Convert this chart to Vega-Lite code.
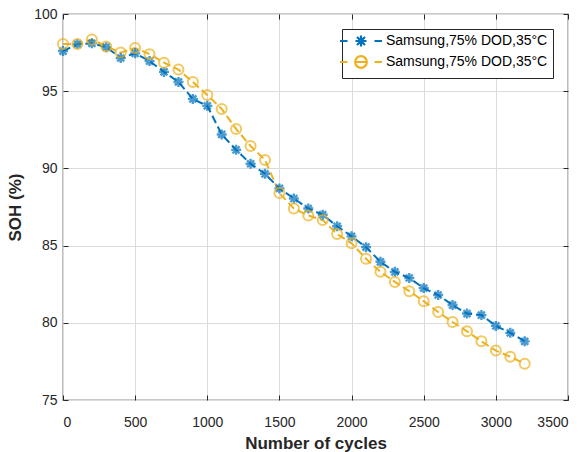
{
  "$schema": "https://vega.github.io/schema/vega-lite/v6.json",
  "width": 505,
  "height": 386,
  "autosize": {"type": "none"},
  "padding": {"left": 63, "top": 14, "right": 19, "bottom": 52},
  "background": "white",
  "config": {
    "font": "Liberation Sans",
    "view": {"stroke": "#262626", "strokeWidth": 1.2},
    "axis": {
      "domain": false,
      "tickColor": "#262626",
      "tickSize": -5,
      "tickWidth": 1,
      "labelFont": "Liberation Sans",
      "labelFontSize": 14,
      "labelColor": "#262626",
      "gridColor": "#dcdcdc",
      "gridWidth": 1,
      "titleFont": "Liberation Sans",
      "titleFontSize": 17,
      "titleFontWeight": "bold",
      "titleColor": "#262626"
    }
  },
  "datasets": {
    "soh": [
      {"cycle": 0, "soh": 97.6, "series": "A"},
      {"cycle": 100, "soh": 98.05, "series": "A"},
      {"cycle": 200, "soh": 98.1, "series": "A"},
      {"cycle": 300, "soh": 97.85, "series": "A"},
      {"cycle": 400, "soh": 97.15, "series": "A"},
      {"cycle": 500, "soh": 97.45, "series": "A"},
      {"cycle": 600, "soh": 96.95, "series": "A"},
      {"cycle": 700, "soh": 96.25, "series": "A"},
      {"cycle": 800, "soh": 95.6, "series": "A"},
      {"cycle": 900, "soh": 94.5, "series": "A"},
      {"cycle": 1000, "soh": 94.05, "series": "A"},
      {"cycle": 1100, "soh": 92.2, "series": "A"},
      {"cycle": 1200, "soh": 91.2, "series": "A"},
      {"cycle": 1300, "soh": 90.3, "series": "A"},
      {"cycle": 1400, "soh": 89.65, "series": "A"},
      {"cycle": 1500, "soh": 88.7, "series": "A"},
      {"cycle": 1600, "soh": 88.05, "series": "A"},
      {"cycle": 1700, "soh": 87.4, "series": "A"},
      {"cycle": 1800, "soh": 87.0, "series": "A"},
      {"cycle": 1900, "soh": 86.25, "series": "A"},
      {"cycle": 2000, "soh": 85.6, "series": "A"},
      {"cycle": 2100, "soh": 84.9, "series": "A"},
      {"cycle": 2200, "soh": 83.95, "series": "A"},
      {"cycle": 2300, "soh": 83.3, "series": "A"},
      {"cycle": 2400, "soh": 82.9, "series": "A"},
      {"cycle": 2500, "soh": 82.25, "series": "A"},
      {"cycle": 2600, "soh": 81.8, "series": "A"},
      {"cycle": 2700, "soh": 81.15, "series": "A"},
      {"cycle": 2800, "soh": 80.6, "series": "A"},
      {"cycle": 2900, "soh": 80.5, "series": "A"},
      {"cycle": 3000, "soh": 79.8, "series": "A"},
      {"cycle": 3100, "soh": 79.35, "series": "A"},
      {"cycle": 3200, "soh": 78.8, "series": "A"},
      {"cycle": 0, "soh": 98.05, "series": "B"},
      {"cycle": 100, "soh": 98.05, "series": "B"},
      {"cycle": 200, "soh": 98.35, "series": "B"},
      {"cycle": 300, "soh": 97.9, "series": "B"},
      {"cycle": 400, "soh": 97.5, "series": "B"},
      {"cycle": 500, "soh": 97.8, "series": "B"},
      {"cycle": 600, "soh": 97.4, "series": "B"},
      {"cycle": 700, "soh": 96.85, "series": "B"},
      {"cycle": 800, "soh": 96.4, "series": "B"},
      {"cycle": 900, "soh": 95.6, "series": "B"},
      {"cycle": 1000, "soh": 94.75, "series": "B"},
      {"cycle": 1100, "soh": 93.85, "series": "B"},
      {"cycle": 1200, "soh": 92.55, "series": "B"},
      {"cycle": 1300, "soh": 91.45, "series": "B"},
      {"cycle": 1400, "soh": 90.55, "series": "B"},
      {"cycle": 1500, "soh": 88.4, "series": "B"},
      {"cycle": 1600, "soh": 87.4, "series": "B"},
      {"cycle": 1700, "soh": 86.95, "series": "B"},
      {"cycle": 1800, "soh": 86.65, "series": "B"},
      {"cycle": 1900, "soh": 85.75, "series": "B"},
      {"cycle": 2000, "soh": 85.15, "series": "B"},
      {"cycle": 2100, "soh": 84.15, "series": "B"},
      {"cycle": 2200, "soh": 83.3, "series": "B"},
      {"cycle": 2300, "soh": 82.65, "series": "B"},
      {"cycle": 2400, "soh": 82.05, "series": "B"},
      {"cycle": 2500, "soh": 81.4, "series": "B"},
      {"cycle": 2600, "soh": 80.7, "series": "B"},
      {"cycle": 2700, "soh": 80.05, "series": "B"},
      {"cycle": 2800, "soh": 79.45, "series": "B"},
      {"cycle": 2900, "soh": 78.8, "series": "B"},
      {"cycle": 3000, "soh": 78.2, "series": "B"},
      {"cycle": 3100, "soh": 77.8, "series": "B"},
      {"cycle": 3200, "soh": 77.35, "series": "B"}
    ]
  },
  "data": {"name": "soh"},
  "layer": [
    {
      "mark": {"type": "line", "strokeWidth": 2, "strokeDash": [8, 4]},
      "encoding": {
        "x": {
          "field": "cycle", "type": "quantitative",
          "scale": {"domain": [0, 3500], "nice": false, "zero": false},
          "axis": {"orient": "bottom", "values": [0, 500, 1000, 1500, 2000, 2500, 3000, 3500], "format": "d", "labelPadding": 20, "title": "Number of cycles", "titlePadding": 6}
        },
        "y": {
          "field": "soh", "type": "quantitative",
          "scale": {"domain": [75, 100], "nice": false, "zero": false},
          "axis": {"orient": "left", "values": [75, 80, 85, 90, 95, 100], "labelPadding": 11, "title": "SOH (%)", "titlePadding": 9}
        },
        "color": {
          "field": "series", "type": "nominal",
          "scale": {"domain": ["A", "B"], "range": ["#0072BD", "#EDB120"]},
          "legend": {
            "title": null,
            "orient": "top-right",
            "offset": 15,
            "padding": 5,
            "strokeColor": "#262626",
            "fillColor": "white",
            "labelFont": "Liberation Sans",
            "labelFontSize": 14,
            "labelColor": "#000000",
            "labelLimit": 400,
            "symbolSize": 100,
            "symbolOffset": 7,
            "labelOffset": 18,
            "rowPadding": 0,
            "symbolStrokeWidth": 2,
            "labelExpr": "'Samsung,75% DOD,35°C'",
            "encode": {
              "symbols": {
                "update": {
                  "shape": {"signal": "datum.value === 'A' ? 'M-4.2,0H-2.7M2.7,0H4.2M0,-1.1V1.1M-1.1,0H1.1M-0.8,-0.8L0.8,0.8M-0.8,0.8L0.8,-0.8' : 'M-4.2,0H-2.7M2.7,0H4.2M1.17,0A1.17,1.17 0 1,1 -1.17,0A1.17,1.17 0 1,1 1.17,0M-1.17,0H1.17'"},
                  "fill": {"value": "transparent"},
                  "strokeWidth": {"value": 2.2}
                }
              }
            }
          }
        }
      }
    },
    {
      "transform": [{"filter": "datum.series === 'A'"}],
      "mark": {
        "type": "point", "filled": false, "strokeWidth": 2.4, "size": 100,
        "color": "#0072BD",
        "shape": "M0,-1V1M-1,0H1M-0.7,-0.7L0.7,0.7M-0.7,0.7L0.7,-0.7"
      },
      "encoding": {
        "x": {
          "field": "cycle", "type": "quantitative",
          "axis": {"orient": "top", "values": [0, 500, 1000, 1500, 2000, 2500, 3000, 3500], "labels": false, "grid": false, "title": null}
        },
        "y": {
          "field": "soh", "type": "quantitative",
          "axis": {"orient": "right", "values": [75, 80, 85, 90, 95, 100], "labels": false, "grid": false, "title": null}
        }
      }
    },
    {
      "transform": [{"filter": "datum.series === 'B'"}],
      "mark": {
        "type": "point", "filled": false, "strokeWidth": 2, "size": 100,
        "color": "#EDB120", "shape": "circle"
      },
      "encoding": {
        "x": {"field": "cycle", "type": "quantitative", "axis": null},
        "y": {"field": "soh", "type": "quantitative", "axis": null}
      }
    }
  ],
  "resolve": {"axis": {"x": "independent", "y": "independent"}}
}
